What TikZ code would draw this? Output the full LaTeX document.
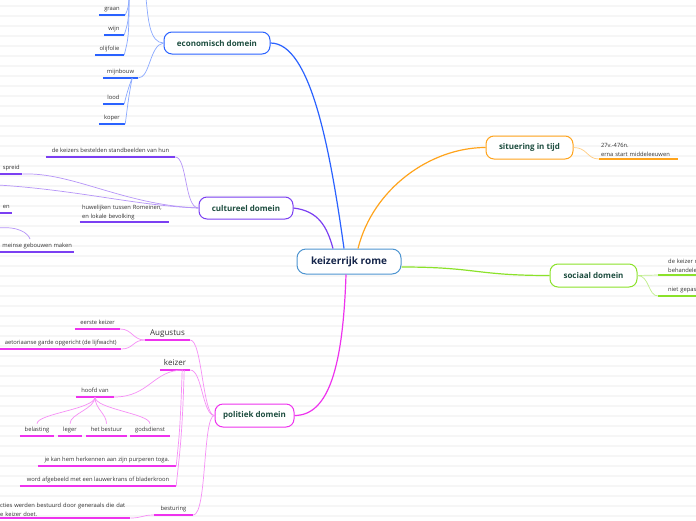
\documentclass[tikz,border=0pt]{standalone}
\usepackage{fontspec}
\setmainfont{Open Sans}
\usetikzlibrary{positioning}

\definecolor{econblue}{HTML}{2A62FF}
\definecolor{cultpurple}{HTML}{7B3FF2}
\definecolor{polmagenta}{HTML}{EE33EE}
\definecolor{situorange}{HTML}{FFA41C}
\definecolor{socgreen}{HTML}{8BE22A}
\definecolor{rootblue}{HTML}{4D94D0}
\definecolor{roottext}{HTML}{15254A}
\definecolor{domaintext}{HTML}{1D4D3F}
\definecolor{leaftext}{HTML}{333333}

\begin{document}
\begin{tikzpicture}[
    x=1pt, y=-1pt,
    every node/.style={text=leaftext},
    root/.style={draw=rootblue, fill=white, line width=1pt, rounded corners=9pt, inner sep=0pt, font=\bfseries\fontsize{10}{12}\selectfont, text=roottext},
    domain/.style={draw=#1, fill=white, line width=1pt, rounded corners=8pt, inner sep=0pt, minimum height=23, font=\bfseries\fontsize{8}{10}\selectfont, text=domaintext},
    leaf/.style={font=\fontsize{5.8}{9}\selectfont, inner xsep=0pt, inner ysep=3pt, text depth=1.5pt, anchor=south,
        append after command={(\tikzlastnode.south west) edge[draw=#1, line width=1.6pt] (\tikzlastnode.south east)}},
    twolines/.style={align=left, text depth=, inner ysep=2pt},
    bigleaf/.style={leaf=#1, font=\fontsize{8}{10}\selectfont},
    branch/.style={draw=#1, line width=1.2pt},
    twig/.style={draw=#1!55, line width=0.7pt},
    stripe/.style={gray!7, line width=1.5pt}
]

\useasboundingbox (0,0) rectangle (696,520);
\clip (0,0) rectangle (696,520);
\fill[white] (0,0) rectangle (696,520);
\foreach \s in {6,16,...,516}
    \draw[stripe] (0,\s) -- (696,\s);

% ============ CENTRE ============
\node[root, minimum width=104, minimum height=25] (rome) at (349,261.5) {keizerrijk rome};

% ============ DOMAINS ============
\node[domain=econblue, minimum width=106, minimum height=22] (econ) at (217,43) {economisch domein};
\node[domain=cultpurple, minimum width=94, minimum height=22] (cult) at (246,208) {cultureel domein};
\node[domain=polmagenta, minimum width=79] (pol) at (254.5,415.5) {politiek domein};
\node[domain=situorange, minimum width=87] (situ) at (529.5,147.5) {situering in tijd};
\node[domain=socgreen, minimum width=87] (soc) at (593.5,275.5) {sociaal domein};

% ============ ECONOMISCH DOMEIN ============
\node[leaf=econblue, minimum width=26] (graan) at (112,15) {graan};
\node[leaf=econblue, minimum width=20] (wijn) at (114,35) {wijn};
\node[leaf=econblue, minimum width=29] (olijf) at (109.5,55) {olijfolie};
\node[leaf=econblue, minimum width=35] (mijn) at (120.5,78) {mijnbouw};
\node[leaf=econblue, minimum width=21] (lood) at (113.5,104) {lood};
\node[leaf=econblue, minimum width=26] (koper) at (112,124) {koper};

\coordinate (econup) at (146,-2);
\coordinate (econtrunk) at (129,-2);

% ============ CULTUREEL DOMEIN ============
\node[leaf=cultpurple, minimum width=129] (beeld) at (110.5,157) {de keizers bestelden standbeelden van hun};
\node[leaf=cultpurple, anchor=south west, minimum width=22] (spreid) at (0,174) {spreid};
\node[leaf=cultpurple, anchor=south west, minimum width=12] (en) at (0,213) {en};
\node[leaf=cultpurple, anchor=south west, minimum width=74] (gebouw) at (0,252) {meinse gebouwen maken};
\node[leaf=cultpurple, twolines, text width=85, inner xsep=2pt] (huw) at (124.5,222) {huwelijken tussen Romeinen,\\ en lokale bevolking};

\coordinate (cultedge) at (-2,185);
\coordinate (cultedge2) at (-2,228);
\coordinate (gebtop) at (30,239);

% ============ POLITIEK DOMEIN ============
\node[bigleaf=polmagenta, minimum width=45] (aug) at (167.5,340) {Augustus};
\node[leaf=polmagenta, minimum width=45] (eerste) at (97.5,329) {eerste keizer};
\node[leaf=polmagenta, anchor=south west, minimum width=121] (garde) at (0,349) {aetoriaanse garde opgericht (de lijfwacht)};
\node[bigleaf=polmagenta, minimum width=30] (keizer) at (175,370) {keizer};
\node[leaf=polmagenta, minimum width=38] (hoofd) at (95,397) {hoofd van};
\node[leaf=polmagenta, minimum width=34] (belast) at (37,436) {belasting};
\node[leaf=polmagenta, minimum width=24] (leger) at (70,436) {leger};
\node[leaf=polmagenta, minimum width=41] (bestuur) at (106.5,436) {het bestuur};
\node[leaf=polmagenta, minimum width=40] (gods) at (150,436) {godsdienst};
\node[leaf=polmagenta, minimum width=138] (toga) at (107,466) {je kan hem herkennen aan zijn purperen toga.};
\node[leaf=polmagenta, minimum width=156] (krans) at (98,486) {word afgebeeld met een lauwerkrans of bladerkroon};
\node[leaf=polmagenta, minimum width=39] (besturing) at (173.5,515) {besturing};
\node[leaf=polmagenta, twolines, anchor=south west, text width=130, inner ysep=1pt] (gen) at (0,518) {cties werden bestuurd door generaals die dat\\e keizer doet.};

% ============ SITUERING / SOCIAAL ============
\node[leaf=situorange, twolines, text width=75, inner xsep=2pt] (tijd) at (638.5,159) {27v.-476n.\\erna start middeleeuwen};
\node[leaf=socgreen, twolines, anchor=south west, text width=40, inner xsep=10pt] (behandel) at (658,275) {de keizer r\\behandele};
\node[leaf=socgreen, anchor=south west, text width=40, align=left, inner xsep=10pt] (gepast) at (658,296) {niet gepas};

% Main branches
\draw[branch=econblue] (econ.east) .. controls +(40,0) and +(-14,-100) .. ([xshift=-5pt]rome.north);
\draw[branch=cultpurple] (cult.east) .. controls +(25,3) and +(-6,-22) .. ([xshift=-16pt]rome.north);
\draw[branch=situorange] ([xshift=9pt]rome.north) .. controls +(15,-60) and +(-55,0) .. (situ.west);
\draw[branch=polmagenta] ([xshift=-3pt]rome.south) .. controls +(-3,90) and +(35,0) .. (pol.east);
\draw[branch=socgreen] ([yshift=-5.5pt]rome.east) .. controls +(75,0) and +(-75,0) .. (soc.west);

% Economisch twigs
\draw[twig=econblue] (econ.west) .. controls +(-14,0) and +(2,20) .. (econup);
\draw[twig=econblue] (econtrunk) .. controls +(0,8) and +(2,-4) .. (graan.south east);
\draw[twig=econblue] (econtrunk) .. controls +(0,24) and +(3,-10) .. (wijn.south east);
\draw[twig=econblue] (econtrunk) .. controls +(0,40) and +(4,-16) .. (olijf.south east);
\draw[twig=econblue] (econ.west) .. controls +(-14,2) and +(12,0) .. (mijn.south east);
\draw[twig=econblue] ([xshift=-6pt]mijn.south east) .. controls +(-4,10) and +(2,-8) .. (lood.south east);
\draw[twig=econblue] ([xshift=-6pt]mijn.south east) .. controls +(-4,20) and +(2,-14) .. (koper.south east);

% Cultureel twigs
\draw[twig=cultpurple] (beeld.south east) .. controls +(12,0) and +(-14,0) .. (cult.west);
\draw[twig=cultpurple] (spreid.south east) .. controls +(50,-2) and +(-75,-3) .. (cult.west);
\draw[twig=cultpurple] (cultedge) .. controls +(80,5) and +(-60,-2) .. (cult.west);
\draw[twig=cultpurple] (cultedge2) .. controls +(20,-2) and +(-2,-6) .. (gebtop);

% Politiek twigs
\draw[twig=polmagenta] (eerste.south east) .. controls +(12,0) and +(-12,0) .. (aug.south west);
\draw[twig=polmagenta] (garde.south east) .. controls +(12,0) and +(-12,0) .. (aug.south west);
\draw[twig=polmagenta] (aug.south east) .. controls +(12,0) and +(-12,0) .. (pol.west);
\draw[twig=polmagenta] (keizer.south east) .. controls +(12,0) and +(-12,0) .. (pol.west);
\draw[twig=polmagenta] (besturing.south east) .. controls +(14,0) and +(-12,0) .. (pol.west);
\draw[twig=polmagenta] (gen.south east) .. controls +(12,0) and +(-12,0) .. (besturing.south west);
\draw[twig=polmagenta] (hoofd.south east) .. controls +(35,0) and +(-30,0) .. ([xshift=-7pt]keizer.south east);
\draw[twig=polmagenta] ([xshift=-8pt]keizer.south east) .. controls +(-2,60) and +(3,-30) .. (toga.south east);
\draw[twig=polmagenta] ([xshift=-6pt]keizer.south east) .. controls +(-2,70) and +(3,-30) .. (krans.south east);
\foreach \child in {belast, leger, bestuur, gods}
    \draw[twig=polmagenta] (hoofd.south) .. controls +(0,12) and +(0,-10) .. (\child.north);

% Situering / sociaal twigs
\draw[twig=situorange] (situ.east) .. controls +(14,0) and +(-12,0) .. (tijd.south west);
\draw[twig=socgreen] (soc.east) -- (behandel.south west);
\draw[twig=socgreen] (soc.east) .. controls +(12,0) and +(-10,0) .. (gepast.south west);

\end{tikzpicture}
\end{document}
